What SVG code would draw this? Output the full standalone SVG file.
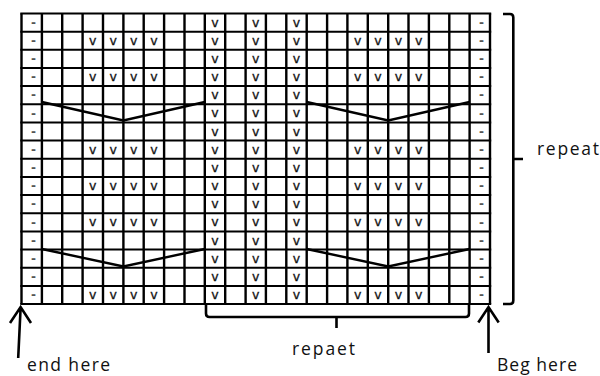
<svg xmlns="http://www.w3.org/2000/svg" width="600" height="376" viewBox="0 0 600 376">
<style>
.bg{fill:#fff}
.gv{stroke:#000;stroke-width:2.4;fill:none}
.gh{stroke:#000;stroke-width:2;fill:none}
.ln{stroke:#000;stroke-width:2.4;fill:none;stroke-linejoin:miter}
.br{stroke:#000;stroke-width:2.6;fill:none}
.d{font-family:"DejaVu Sans",sans-serif;font-size:12px;font-weight:bold;fill:#555;text-anchor:middle}
.v{font-family:"DejaVu Sans",sans-serif;font-size:12.5px;fill:#111;text-anchor:middle;stroke:#111;stroke-width:0.3}
.lb{font-family:"Open Sans","Liberation Sans",sans-serif;font-size:17.5px;fill:#111}
</style>
<rect class="bg" x="0" y="0" width="600" height="376"/>
<g id="grid">
<path class="gv" d="M21.5,13.5V304.1M41.9,13.5V304.1M62.2,13.5V304.1M82.6,13.5V304.1M103,13.5V304.1M123.4,13.5V304.1M143.7,13.5V304.1M164.1,13.5V304.1M184.5,13.5V304.1M204.8,13.5V304.1M225.2,13.5V304.1M245.6,13.5V304.1M265.9,13.5V304.1M286.3,13.5V304.1M306.7,13.5V304.1M327.1,13.5V304.1M347.4,13.5V304.1M367.8,13.5V304.1M388.2,13.5V304.1M408.5,13.5V304.1M428.9,13.5V304.1M449.3,13.5V304.1M469.6,13.5V304.1M490,13.5V304.1"/>
<path class="gh" d="M20.3,13.5H491.2M20.3,31.7H491.2M20.3,49.8H491.2M20.3,68H491.2M20.3,86.1H491.2M20.3,104.3H491.2M20.3,122.5H491.2M20.3,140.6H491.2M20.3,158.8H491.2M20.3,176.9H491.2M20.3,195.1H491.2M20.3,213.3H491.2M20.3,231.4H491.2M20.3,249.6H491.2M20.3,267.7H491.2M20.3,285.9H491.2M20.3,304.1H491.2"/>
</g>
<g id="decreases">
<path class="ln" d="M41.9,102L123.4,120.5L204.8,102"/>
<path class="ln" d="M306.7,102L388.2,120.5L469.6,102"/>
<path class="ln" d="M41.9,249L123.4,266.5L204.8,249"/>
<path class="ln" d="M306.7,249L388.2,266.5L469.6,249"/>
</g>
<g id="edge-stitches">
<text class="d" x="33.4" y="26.8">-</text><text class="d" x="481.6" y="26.8">-</text>
<text class="d" x="33.4" y="44.9">-</text><text class="d" x="481.6" y="44.9">-</text>
<text class="d" x="33.4" y="63.1">-</text><text class="d" x="481.6" y="63.1">-</text>
<text class="d" x="33.4" y="81.3">-</text><text class="d" x="481.6" y="81.3">-</text>
<text class="d" x="33.4" y="99.4">-</text><text class="d" x="481.6" y="99.4">-</text>
<text class="d" x="33.4" y="117.6">-</text><text class="d" x="481.6" y="117.6">-</text>
<text class="d" x="33.4" y="135.7">-</text><text class="d" x="481.6" y="135.7">-</text>
<text class="d" x="33.4" y="153.9">-</text><text class="d" x="481.6" y="153.9">-</text>
<text class="d" x="33.4" y="172.1">-</text><text class="d" x="481.6" y="172.1">-</text>
<text class="d" x="33.4" y="190.2">-</text><text class="d" x="481.6" y="190.2">-</text>
<text class="d" x="33.4" y="208.4">-</text><text class="d" x="481.6" y="208.4">-</text>
<text class="d" x="33.4" y="226.5">-</text><text class="d" x="481.6" y="226.5">-</text>
<text class="d" x="33.4" y="244.7">-</text><text class="d" x="481.6" y="244.7">-</text>
<text class="d" x="33.4" y="262.9">-</text><text class="d" x="481.6" y="262.9">-</text>
<text class="d" x="33.4" y="281">-</text><text class="d" x="481.6" y="281">-</text>
<text class="d" x="33.4" y="299.2">-</text><text class="d" x="481.6" y="299.2">-</text>
</g>
<g id="center-columns">
<text class="v" x="215" y="26.6">v</text><text class="v" x="255.8" y="26.6">v</text><text class="v" x="296.5" y="26.6">v</text>
<text class="v" x="215" y="44.7">v</text><text class="v" x="255.8" y="44.7">v</text><text class="v" x="296.5" y="44.7">v</text>
<text class="v" x="215" y="62.9">v</text><text class="v" x="255.8" y="62.9">v</text><text class="v" x="296.5" y="62.9">v</text>
<text class="v" x="215" y="81.1">v</text><text class="v" x="255.8" y="81.1">v</text><text class="v" x="296.5" y="81.1">v</text>
<text class="v" x="215" y="99.2">v</text><text class="v" x="255.8" y="99.2">v</text><text class="v" x="296.5" y="99.2">v</text>
<text class="v" x="215" y="117.4">v</text><text class="v" x="255.8" y="117.4">v</text><text class="v" x="296.5" y="117.4">v</text>
<text class="v" x="215" y="135.5">v</text><text class="v" x="255.8" y="135.5">v</text><text class="v" x="296.5" y="135.5">v</text>
<text class="v" x="215" y="153.7">v</text><text class="v" x="255.8" y="153.7">v</text><text class="v" x="296.5" y="153.7">v</text>
<text class="v" x="215" y="171.9">v</text><text class="v" x="255.8" y="171.9">v</text><text class="v" x="296.5" y="171.9">v</text>
<text class="v" x="215" y="190">v</text><text class="v" x="255.8" y="190">v</text><text class="v" x="296.5" y="190">v</text>
<text class="v" x="215" y="208.2">v</text><text class="v" x="255.8" y="208.2">v</text><text class="v" x="296.5" y="208.2">v</text>
<text class="v" x="215" y="226.3">v</text><text class="v" x="255.8" y="226.3">v</text><text class="v" x="296.5" y="226.3">v</text>
<text class="v" x="215" y="244.5">v</text><text class="v" x="255.8" y="244.5">v</text><text class="v" x="296.5" y="244.5">v</text>
<text class="v" x="215" y="262.7">v</text><text class="v" x="255.8" y="262.7">v</text><text class="v" x="296.5" y="262.7">v</text>
<text class="v" x="215" y="280.8">v</text><text class="v" x="255.8" y="280.8">v</text><text class="v" x="296.5" y="280.8">v</text>
<text class="v" x="215" y="299">v</text><text class="v" x="255.8" y="299">v</text><text class="v" x="296.5" y="299">v</text>
</g>
<g id="left-panel">
<text class="v" x="92.8" y="44.7">v</text><text class="v" x="113.2" y="44.7">v</text><text class="v" x="133.6" y="44.7">v</text><text class="v" x="153.9" y="44.7">v</text>
<text class="v" x="92.8" y="81.1">v</text><text class="v" x="113.2" y="81.1">v</text><text class="v" x="133.6" y="81.1">v</text><text class="v" x="153.9" y="81.1">v</text>
<text class="v" x="92.8" y="153.7">v</text><text class="v" x="113.2" y="153.7">v</text><text class="v" x="133.6" y="153.7">v</text><text class="v" x="153.9" y="153.7">v</text>
<text class="v" x="92.8" y="190">v</text><text class="v" x="113.2" y="190">v</text><text class="v" x="133.6" y="190">v</text><text class="v" x="153.9" y="190">v</text>
<text class="v" x="92.8" y="226.3">v</text><text class="v" x="113.2" y="226.3">v</text><text class="v" x="133.6" y="226.3">v</text><text class="v" x="153.9" y="226.3">v</text>
<text class="v" x="92.8" y="299">v</text><text class="v" x="113.2" y="299">v</text><text class="v" x="133.6" y="299">v</text><text class="v" x="153.9" y="299">v</text>
</g>
<g id="right-panel">
<text class="v" x="357.6" y="44.7">v</text><text class="v" x="378" y="44.7">v</text><text class="v" x="398.4" y="44.7">v</text><text class="v" x="418.8" y="44.7">v</text>
<text class="v" x="357.6" y="81.1">v</text><text class="v" x="378" y="81.1">v</text><text class="v" x="398.4" y="81.1">v</text><text class="v" x="418.8" y="81.1">v</text>
<text class="v" x="357.6" y="153.7">v</text><text class="v" x="378" y="153.7">v</text><text class="v" x="398.4" y="153.7">v</text><text class="v" x="418.8" y="153.7">v</text>
<text class="v" x="357.6" y="190">v</text><text class="v" x="378" y="190">v</text><text class="v" x="398.4" y="190">v</text><text class="v" x="418.8" y="190">v</text>
<text class="v" x="357.6" y="226.3">v</text><text class="v" x="378" y="226.3">v</text><text class="v" x="398.4" y="226.3">v</text><text class="v" x="418.8" y="226.3">v</text>
<text class="v" x="357.6" y="299">v</text><text class="v" x="378" y="299">v</text><text class="v" x="398.4" y="299">v</text><text class="v" x="418.8" y="299">v</text>
</g>
<g id="brackets">
<path class="br" d="M503,14H510Q513.3,14 513.3,17.5V300.5Q513.3,304 510,304H503M513.3,159H523"/>
<path class="br" d="M206,305V313.5Q206,317 209.5,317H465.5Q469,317 469,313.5V305M336.5,317V328"/>
</g>
<g id="arrows">
<path class="br" d="M18.2,358L20.6,308M10,323L20.6,307L31,323"/>
<path class="br" d="M488.5,353V308M478.3,322.5L488.5,307L498.7,322.5"/>
</g>
<g id="labels">
<text class="lb" x="537" y="155" textLength="62" lengthAdjust="spacing">repeat</text>
<text class="lb" x="292" y="355" textLength="63" lengthAdjust="spacing">repaet</text>
<text class="lb" x="27" y="371" textLength="83" lengthAdjust="spacing">end here</text>
<text class="lb" x="497" y="371" textLength="80" lengthAdjust="spacing">Beg here</text>
</g>
</svg>
